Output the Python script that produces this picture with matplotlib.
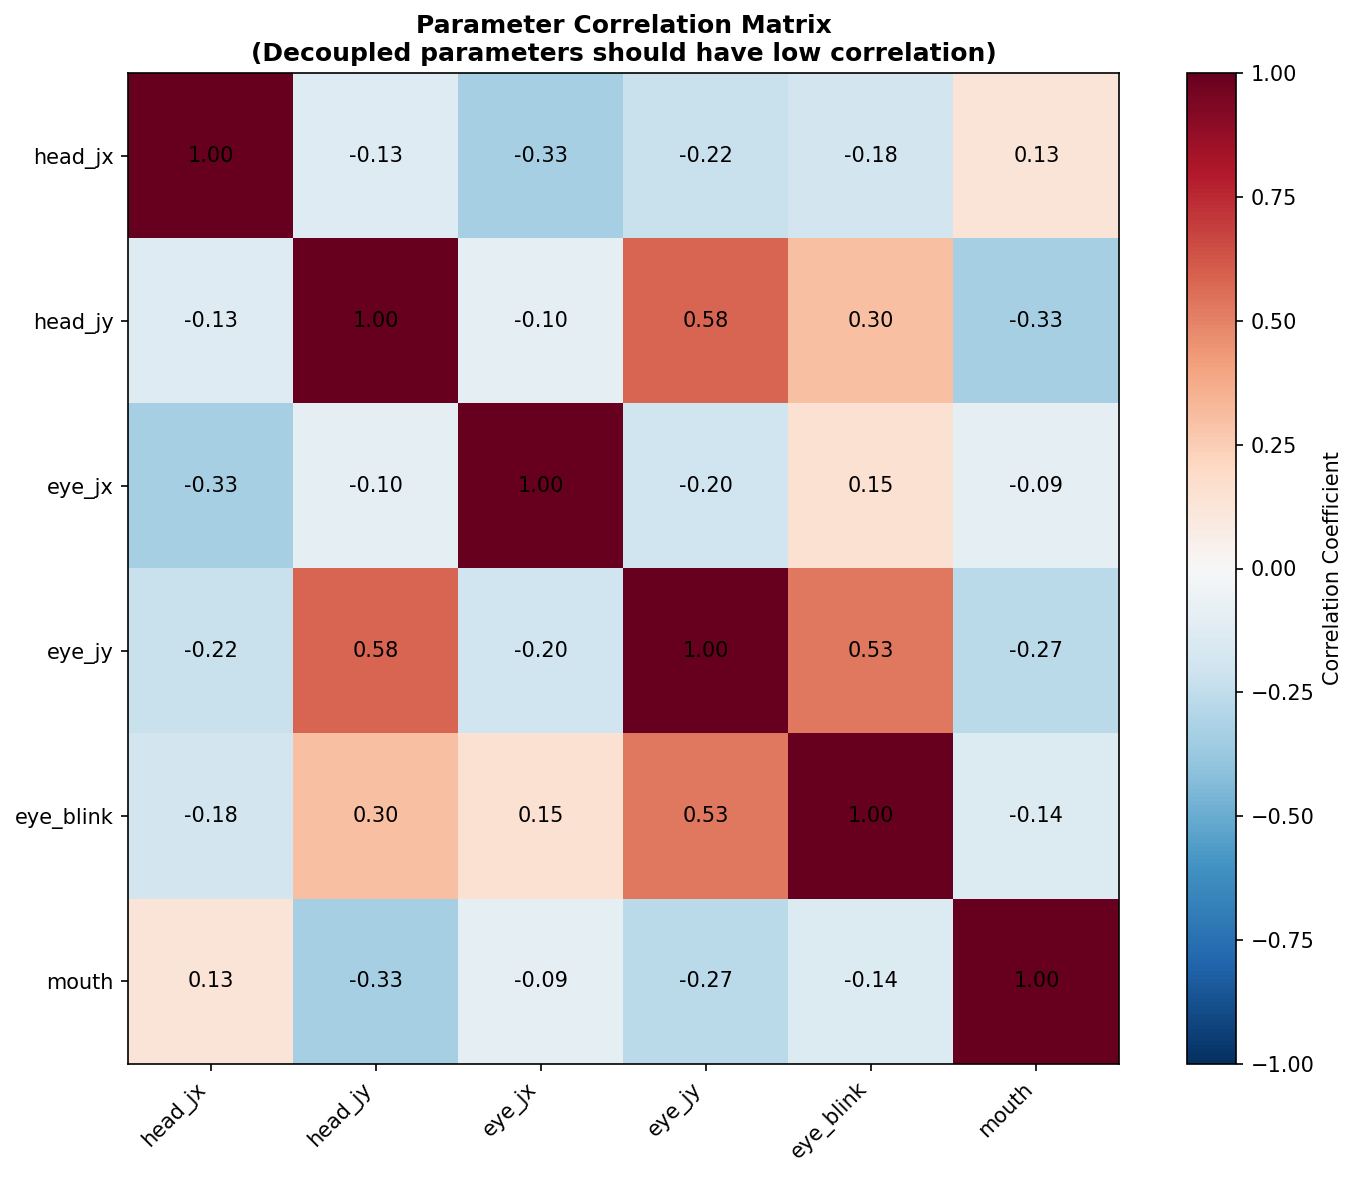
import matplotlib
matplotlib.use("Agg")
import matplotlib.pyplot as plt
import numpy as np

# Parameter names and correlation matrix
params = ["head_jx", "head_jy", "eye_jx", "eye_jy", "eye_blink", "mouth"]
corr = np.array([
    [1.00, -0.13, -0.33, -0.22, -0.18, 0.13],
    [-0.13, 1.00, -0.10, 0.58, 0.30, -0.33],
    [-0.33, -0.10, 1.00, -0.20, 0.15, -0.09],
    [-0.22, 0.58, -0.20, 1.00, 0.53, -0.27],
    [-0.18, 0.30, 0.15, 0.53, 1.00, -0.14],
    [0.13, -0.33, -0.09, -0.27, -0.14, 1.00],
])

W, H = 1358, 1179
fig = plt.figure(figsize=(W / 150, H / 150), dpi=150)
ax = fig.add_axes([128 / W, 1 - 1064 / H, 991 / W, 991 / H])
cax = fig.add_axes([1187 / W, 1 - 1064 / H, 49 / W, 991 / H])

im = ax.imshow(corr, cmap="RdBu_r", vmin=-1, vmax=1, aspect="auto")

for i in range(len(params)):
    for j in range(len(params)):
        ax.text(j, i, f"{corr[i, j]:.2f}", ha="center", va="center", color="black", fontsize=10)

ax.set_xticks(range(len(params)))
ax.set_xticklabels(params, rotation=45, ha="right")
ax.set_yticks(range(len(params)))
ax.set_yticklabels(params)
ax.set_title("Parameter Correlation Matrix\n(Decoupled parameters should have low correlation)",
             fontsize=12, fontweight="bold")

cbar = fig.colorbar(im, cax=cax)
cbar.set_label("Correlation Coefficient")

fig.savefig("out.png", dpi=150)
